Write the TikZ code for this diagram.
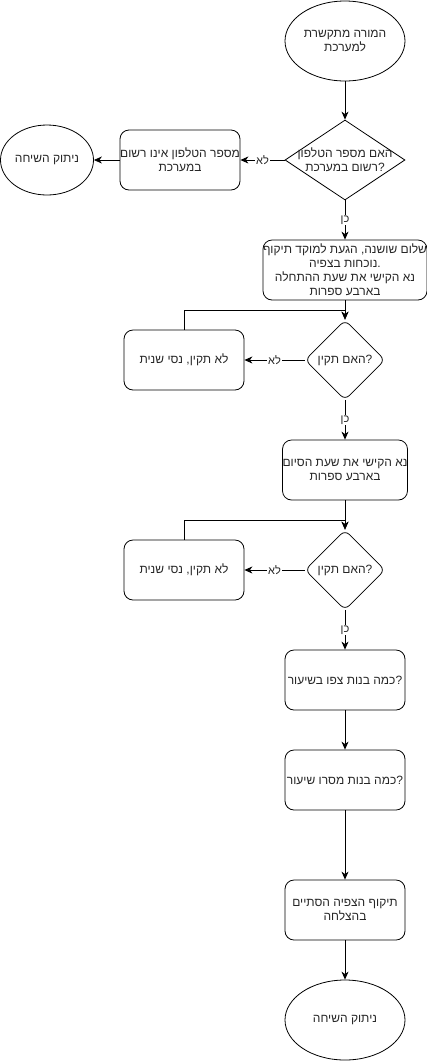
\documentclass[tikz,border=0pt]{standalone}
\usepackage{fontspec}
\usetikzlibrary{shapes.geometric,arrows.meta}
\TeXXeTstate=1
\newfontfamily\hebfont[Script=Hebrew]{Liberation Sans}

\tikzset{
  txt/.style={font=\hebfont\fontsize{12}{14}\selectfont, align=center, text=black!85},
  procbox/.style={draw, rounded corners=9pt, minimum width=120pt, minimum height=60pt,
    inner sep=0pt, line width=0.8pt, txt},
  termin/.style={draw, ellipse, minimum width=120pt, minimum height=80pt,
    inner sep=0pt, line width=0.8pt, txt},
  decision/.style={draw, diamond, inner sep=0pt, line width=0.8pt},
  qdiamond/.style={decision, rounded corners=6pt, minimum width=80pt, minimum height=80pt},
  arr/.style={-{Stealth[length=8pt,width=7pt,inset=2.5pt]}, line width=0.8pt},
  elabel/.style={fill=white, inner sep=1pt, font=\hebfont\fontsize{11}{12}\selectfont, text=black!85}
}

\begin{document}
\begin{tikzpicture}[x=1pt,y=-1pt]
\useasboundingbox (0,0) rectangle (427,1061);

% main column
\node[termin] (start) at (345,41) {\beginR המורה מתקשרת\endR\\\beginR למערכת\endR};
\node[decision, minimum width=120pt, minimum height=80pt,
  label={[txt]center:{\beginR האם מספר הטלפון\endR\\\beginR רשום במערכת\endR?}}] (d1) at (345,160) {};
\node[procbox, minimum width=160pt] (hello) at (345,270)
  {\beginR שלום שושנה, הגעת למוקד תיקוף\endR\\\beginR נוכחות בצפיה\endR.\\\beginR נא הקישי את שעת ההתחלה\endR\\\beginR בארבע ספרות\endR};
\node[qdiamond, label={[txt]center:{\beginR האם תקין\endR?}}] (d2) at (345,360) {};
\node[procbox] (endtime) at (345,470) {\beginR נא הקישי את שעת הסיום\endR\\\beginR בארבע ספרות\endR};
\node[qdiamond, label={[txt]center:{\beginR האם תקין\endR?}}] (d3) at (345,570) {};
\node[procbox] (watched) at (345,680) {\beginR כמה בנות צפו בשיעור\endR?};
\node[procbox] (taught) at (345,780) {\beginR כמה בנות מסרו שיעור\endR?};
\node[procbox] (done) at (345,910) {\beginR תיקוף הצפיה הסתיים\endR\\\beginR בהצלחה\endR};
\node[termin] (hangup) at (345,1020) {\beginR ניתוק השיחה\endR};

% side branches
\node[procbox] (notreg) at (180,160) {\beginR מספר הטלפון אינו רשום\endR\\\beginR במערכת\endR};
\node[termin, minimum width=93pt, minimum height=70pt] (hangup1) at (47,160) {\beginR ניתוק השיחה\endR};
\node[procbox] (retry1) at (184,360) {\beginR לא תקין, נסי שנית\endR};
\node[procbox] (retry2) at (184,570) {\beginR לא תקין, נסי שנית\endR};

\coordinate (j1) at (345,310);
\coordinate (j2) at (345,520);

% connectors
\draw[arr] (start) -- (d1);
\draw[arr] (d1) -- node[elabel] {\beginR לא\endR} (notreg);
\draw[arr] (notreg) -- (hangup1);
\draw[arr] (d1) -- node[elabel] {\beginR כן\endR} (hello);
\draw[arr] (hello) -- (d2);
\draw[arr] (d2) -- node[elabel] {\beginR לא\endR} (retry1);
\draw[arr] (retry1.north) |- (j1) -- (d2.north);
\draw[arr] (d2) -- node[elabel] {\beginR כן\endR} (endtime);
\draw[arr] (endtime) -- (d3);
\draw[arr] (d3) -- node[elabel] {\beginR לא\endR} (retry2);
\draw[arr] (retry2.north) |- (j2) -- (d3.north);
\draw[arr] (d3) -- node[elabel] {\beginR כן\endR} (watched);
\draw[arr] (watched) -- (taught);
\draw[arr] (taught) -- (done);
\draw[arr] (done) -- (hangup);
\end{tikzpicture}
\end{document}
